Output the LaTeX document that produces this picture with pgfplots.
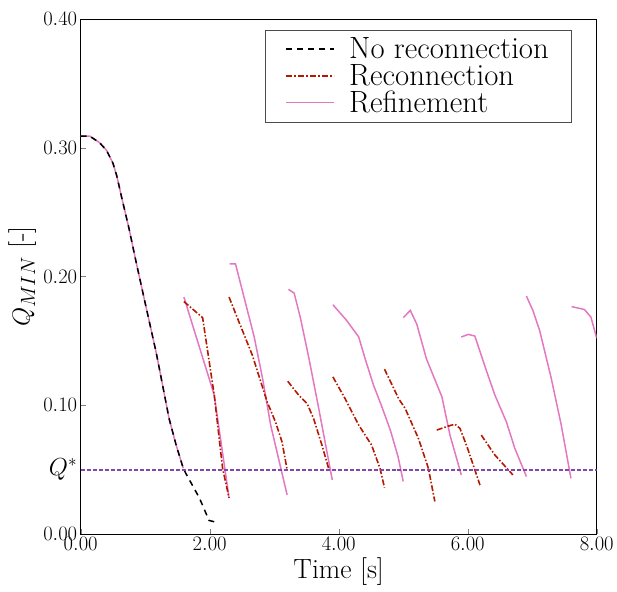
\documentclass[border=0pt]{standalone}
\usepackage{pgfplots}
\pgfplotsset{compat=1.18}
\definecolor{noreccol}{RGB}{0,0,0}
\definecolor{reccol}{RGB}{180,25,0}
\definecolor{refcol}{RGB}{227,119,194}
\definecolor{qcol}{RGB}{130,70,175}
\begin{document}
\begin{tikzpicture}
\begin{axis}[
    scale only axis,
    width=518bp, height=517bp,
    xmin=0, xmax=8, ymin=0, ymax=0.4,
    xtick={0,2,4,6,8},
    ytick={0,0.1,0.2,0.3,0.4},
    extra y ticks={0.05},
    extra y tick labels={{\fontsize{26}{28}\selectfont $Q^*$}},
    extra y tick style={grid=none, major tick length=0pt},
    xtick pos=left, ytick pos=left,
    tick align=inside,
    major tick length=5bp,
    axis line style={line width=0.8bp},
    ticklabel style={font=\fontsize{20}{22}\selectfont},
    xticklabel style={/pgf/number format/fixed, /pgf/number format/fixed zerofill, /pgf/number format/precision=2},
    yticklabel style={/pgf/number format/fixed, /pgf/number format/fixed zerofill, /pgf/number format/precision=2},
    scaled ticks=false,
    xlabel={Time [s]},
    ylabel={$Q_{MIN}$ [-]},
    label style={font=\fontsize{28}{30}\selectfont},
    legend style={at={(0.95,0.979)}, anchor=north east, draw=black!70,
        font=\fontsize{31}{28}\selectfont, inner xsep=20bp, inner ysep=6bp},
    legend cell align=left,
    legend image code/.code={\draw[#1] (0bp,0bp) -- (48bp,0bp); \path (60bp,0bp);},
]
\addlegendimage{color=noreccol, line width=1.5bp, dash pattern=on 6bp off 5bp}
\addlegendentry{No reconnection}
\addlegendimage{color=reccol, line width=2bp, dash pattern=on 6bp off 2bp on 2bp off 2bp}
\addlegendentry{Reconnection}
\addlegendimage{color=refcol, line width=1.5bp}
\addlegendentry{Refinement}

% refinement
\addplot[forget plot, color=refcol, line width=1.5bp] coordinates {
(0.00,0.309) (0.14,0.309) (0.29,0.304) (0.40,0.298) (0.50,0.288) (0.56,0.278)
(0.63,0.2625) (0.75,0.237) (0.86,0.211) (1.01,0.177) (1.17,0.141) (1.27,0.1155)
(1.37,0.0897) (1.48,0.069) (1.59,0.051)};
\addplot[forget plot, color=refcol, line width=1.5bp] coordinates {(1.60,0.184) (2.07,0.108) (2.30,0.028)};
\addplot[forget plot, color=refcol, line width=1.5bp] coordinates {(2.31,0.2097) (2.40,0.2097) (2.69,0.153) (2.82,0.1207) (2.945,0.0846) (3.20,0.0304)};
\addplot[forget plot, color=refcol, line width=1.5bp] coordinates {(3.22,0.19) (3.31,0.187) (3.41,0.167) (3.54,0.136) (3.69,0.0975) (3.90,0.042)};
\addplot[forget plot, color=refcol, line width=1.5bp] coordinates {(3.91,0.178) (4.12,0.166) (4.31,0.153) (4.41,0.136) (4.54,0.1155) (4.66,0.100) (4.80,0.0807) (4.92,0.060) (5.00,0.0408)};
\addplot[forget plot, color=refcol, line width=1.5bp] coordinates {(5.00,0.168) (5.11,0.1736) (5.21,0.163) (5.36,0.136) (5.60,0.1065) (5.725,0.0768) (5.90,0.0459)};
\addplot[forget plot, color=refcol, line width=1.5bp] coordinates {(5.90,0.153) (6.01,0.155) (6.11,0.1537) (6.27,0.1297) (6.42,0.108) (6.60,0.087) (6.73,0.0665) (6.91,0.0446)};
\addplot[forget plot, color=refcol, line width=1.5bp] coordinates {(6.91,0.1847) (7.01,0.1736) (7.115,0.158) (7.29,0.122) (7.45,0.0846) (7.60,0.0433)};
\addplot[forget plot, color=refcol, line width=1.5bp] coordinates {(7.61,0.1766) (7.81,0.1743) (7.91,0.1684) (8.00,0.152)};

% reconnection
\pgfplotsset{recstyle/.style={forget plot, color=reccol, line width=1.6bp, dash pattern=on 6bp off 2bp on 1.5bp off 2bp}}
\addplot[recstyle] coordinates {(1.60,0.1805) (1.89,0.168) (2.07,0.108) (2.20,0.051) (2.30,0.028)};
\addplot[recstyle] coordinates {(2.30,0.184) (2.455,0.1645) (2.66,0.139) (2.89,0.1027) (3.02,0.087) (3.12,0.0717) (3.20,0.05)};
\addplot[recstyle] coordinates {(3.21,0.1186) (3.38,0.1078) (3.51,0.1013) (3.61,0.0897) (3.74,0.069) (3.85,0.0498)};
\addplot[recstyle] coordinates {(3.91,0.122) (4.10,0.105) (4.31,0.0846) (4.51,0.069) (4.64,0.051) (4.71,0.036)};
\addplot[recstyle] coordinates {(4.71,0.128) (4.93,0.105) (5.03,0.0975) (5.235,0.0743) (5.39,0.051) (5.49,0.0253)};
\addplot[recstyle] coordinates {(5.52,0.0807) (5.67,0.0833) (5.80,0.0853) (5.88,0.082) (5.98,0.069) (6.085,0.0536) (6.19,0.038)};
\addplot[recstyle] coordinates {(6.21,0.0768) (6.42,0.0614) (6.70,0.0459)};

% no reconnection
\addplot[forget plot, color=noreccol, line width=1.5bp, dash pattern=on 6bp off 5bp] coordinates {
(0.00,0.309) (0.14,0.309) (0.29,0.304) (0.40,0.298) (0.50,0.288) (0.56,0.278)
(0.63,0.2625) (0.75,0.237) (0.86,0.211) (1.01,0.177) (1.17,0.141) (1.27,0.1155)
(1.37,0.0897) (1.48,0.069) (1.59,0.051) (1.63,0.047) (1.84,0.028) (1.99,0.0105) (2.07,0.0095)};

% threshold Q*
\addplot[forget plot, color=qcol, line width=2bp, dash pattern=on 4bp off 2bp] coordinates {(0,0.05) (8,0.05)};
\end{axis}
\path (current axis.south west) ++(-81bp,-58bp) rectangle ++(617bp,594bp);
\end{tikzpicture}
\end{document}
